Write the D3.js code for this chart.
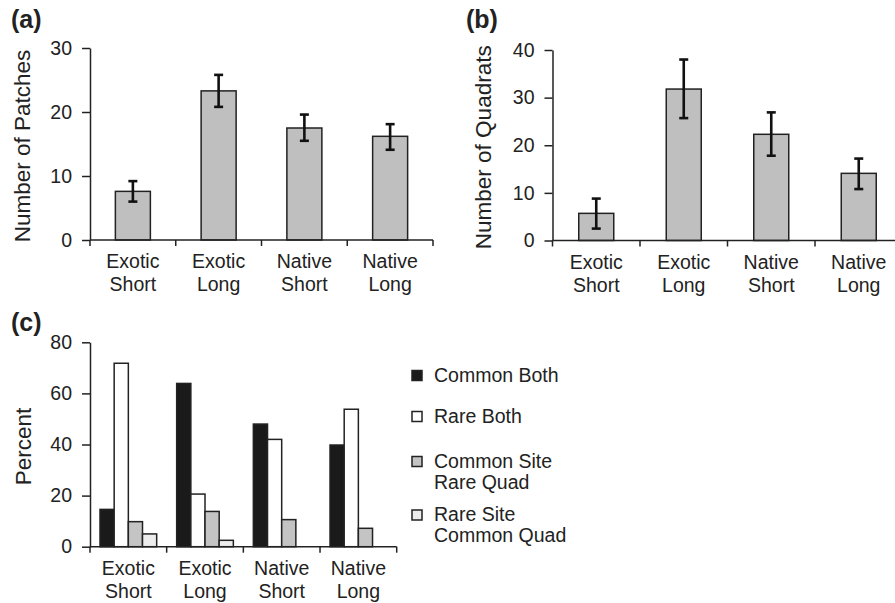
<!DOCTYPE html>
<html>
<head>
<meta charset="utf-8">
<script src="https://cdn.jsdelivr.net/npm/d3@7"></script>
<style>
    body { margin: 0; background: #fff; }
    svg { display: block; font-family: "Liberation Sans", Arial, Helvetica, sans-serif; }
</style>
</head>
<body>
<div id="chart"></div>
<script>
// Data
const categories = ['Exotic Short', 'Exotic Long', 'Native Short', 'Native Long'];

const patchMean = [7.6, 23.3, 17.5, 16.2];
const patchLow = [6.0, 20.8, 15.5, 14.1];
const patchHigh = [9.2, 25.8, 19.6, 18.1];
const patchTicks = [0, 10, 20, 30];

const quadratMean = [5.7, 31.8, 22.3, 14.1];
const quadratLow = [2.5, 25.7, 17.8, 10.8];
const quadratHigh = [8.8, 38.0, 26.9, 17.2];
const quadratTicks = [0, 10, 20, 30, 40];

const seriesNames = ['Common Both', 'Rare Both', 'Common Site Rare Quad', 'Rare Site Common Quad'];
const commonBoth = [14.6, 63.9, 48.0, 39.8];
const rareBoth = [71.8, 20.6, 42.0, 53.8];
const commonSiteRareQuad = [9.8, 13.8, 10.6, 7.2];
const rareSiteCommonQuad = [5.0, 2.5, 0, 0];
const percentTicks = [0, 20, 40, 60, 80];

const seriesColors = ['#1a1a1a', '#ffffff', '#c4c4c4', '#ececec'];
const ink = '#222';

const svg = d3.select('#chart').append('svg')
    .attr('width', 895)
    .attr('height', 603);

// Shared axis pieces
function drawAxes(g, x, y, ticks, title, titleX) {
    const [x0, x1] = x.range();
    const [yBottom] = y.range();

    // y axis
    const yAxis = d3.axisLeft(y).tickValues(ticks).tickSize(8).tickSizeOuter(0).tickPadding(10);
    const gy = g.append('g').attr('transform', `translate(${x0},0)`).call(yAxis);
    gy.select('.domain').attr('stroke', ink).attr('stroke-width', 1.5);
    gy.selectAll('.tick line').attr('stroke', ink).attr('stroke-width', 1.5);
    gy.selectAll('.tick text')
        .attr('fill', ink)
        .style('font-size', '19.5px');

    // x axis: baseline + ticks at band boundaries
    g.append('line')
        .attr('x1', x0).attr('x2', x1)
        .attr('y1', yBottom).attr('y2', yBottom)
        .attr('stroke', ink).attr('stroke-width', 1.5);
    const bounds = categories.map(c => x(c)).concat([x1]);
    g.selectAll('.xtick').data(bounds).enter().append('line')
        .attr('class', 'xtick')
        .attr('x1', d => d).attr('x2', d => d)
        .attr('y1', yBottom).attr('y2', yBottom + 6)
        .attr('stroke', ink).attr('stroke-width', 1.5);

    // two-line category labels
    const lab = g.selectAll('.xlab').data(categories).enter().append('text')
        .attr('class', 'xlab')
        .attr('text-anchor', 'middle')
        .attr('fill', ink)
        .style('font-size', '19.5px');
    lab.append('tspan')
        .attr('x', d => x(d) + x.bandwidth() / 2)
        .attr('y', yBottom + 28)
        .text(d => d.split(' ')[0]);
    lab.append('tspan')
        .attr('x', d => x(d) + x.bandwidth() / 2)
        .attr('y', yBottom + 51)
        .text(d => d.split(' ')[1]);

    // y title
    const [yb, yt] = y.range();
    g.append('text')
        .attr('transform', `translate(${titleX},${(yb + yt) / 2 + 2}) rotate(-90)`)
        .attr('text-anchor', 'middle')
        .attr('fill', ink)
        .style('font-size', '22.5px')
        .text(title);
}

function panelLabel(txt, x, y) {
    svg.append('text')
        .attr('x', x).attr('y', y)
        .attr('fill', ink)
        .style('font-size', '25px')
        .style('font-weight', 'bold')
        .text(txt);
}

function drawErrorBarPanel(mean, low, high, ticks, yMax, title, box) {
    const g = svg.append('g');
    const x = d3.scaleBand().domain(categories).range([box.left, box.right]).padding(0);
    const y = d3.scaleLinear().domain([0, yMax]).range([box.bottom, box.top]);
    const barW = 35;

    const rows = categories.map((c, i) => ({ c, v: mean[i], lo: low[i], hi: high[i] }));

    g.selectAll('.bar').data(rows).enter().append('rect')
        .attr('class', 'bar')
        .attr('x', d => x(d.c) + x.bandwidth() / 2 - barW / 2)
        .attr('width', barW)
        .attr('y', d => y(d.v))
        .attr('height', d => y(0) - y(d.v))
        .attr('fill', '#bfbfbf')
        .attr('stroke', ink)
        .attr('stroke-width', 1.5);

    // Error bars
    const eb = g.selectAll('.err').data(rows).enter().append('g').attr('class', 'err')
        .attr('stroke', '#111').attr('stroke-width', 2.6);
    eb.append('line')
        .attr('x1', d => x(d.c) + x.bandwidth() / 2)
        .attr('x2', d => x(d.c) + x.bandwidth() / 2)
        .attr('y1', d => y(d.lo)).attr('y2', d => y(d.hi));
    [d => d.lo, d => d.hi].forEach(acc => {
        eb.append('line')
            .attr('x1', d => x(d.c) + x.bandwidth() / 2 - 4.5)
            .attr('x2', d => x(d.c) + x.bandwidth() / 2 + 4.5)
            .attr('y1', d => y(acc(d))).attr('y2', d => y(acc(d)));
    });

    drawAxes(g, x, y, ticks, title, box.titleX);
}

// (a)
drawErrorBarPanel(patchMean, patchLow, patchHigh, patchTicks, 30, 'Number of Patches',
    { left: 90, right: 433, top: 48, bottom: 240, titleX: 30 });
panelLabel('(a)', 11, 28);

// (b)
drawErrorBarPanel(quadratMean, quadratLow, quadratHigh, quadratTicks, 40, 'Number of Quadrats',
    { left: 552.5, right: 902.5, top: 50, bottom: 240.5, titleX: 491 });
panelLabel('(b)', 466, 28);

// (c) grouped bars
(function () {
    const g = svg.append('g');
    const box = { left: 90, right: 396.7, top: 342.3, bottom: 546.7 };
    const x = d3.scaleBand().domain(categories).range([box.left, box.right]).padding(0);
    const inner = d3.scaleBand().domain(seriesNames).range([10, x.bandwidth() - 10]).padding(0);
    const y = d3.scaleLinear().domain([0, 80]).range([box.bottom, box.top]);

    const series = [commonBoth, rareBoth, commonSiteRareQuad, rareSiteCommonQuad];
    const rows = [];
    categories.forEach((c, i) => {
        seriesNames.forEach((s, j) => {
            if (series[j][i] > 0) rows.push({ c, s, j, v: series[j][i] });
        });
    });

    g.selectAll('.gbar').data(rows).enter().append('rect')
        .attr('class', 'gbar')
        .attr('x', d => x(d.c) + inner(d.s))
        .attr('width', inner.bandwidth())
        .attr('y', d => y(d.v))
        .attr('height', d => y(0) - y(d.v))
        .attr('fill', d => seriesColors[d.j])
        .attr('stroke', ink)
        .attr('stroke-width', 1.5);

    drawAxes(g, x, y, percentTicks, 'Percent', 31);

    // Legend
    const legendTop = [370.5, 411.5, 456.5, 510];
    const lg = svg.append('g');
    seriesNames.forEach((name, j) => {
        lg.append('rect')
            .attr('x', 412).attr('y', legendTop[j])
            .attr('width', 10).attr('height', 10)
            .attr('fill', seriesColors[j])
            .attr('stroke', ink).attr('stroke-width', 1.5);
        const words = name.split(' ');
        const lines = words.length > 2 ? [words.slice(0, 2).join(' '), words.slice(2).join(' ')] : [name];
        lines.forEach((ln, k) => {
            lg.append('text')
                .attr('x', 434)
                .attr('y', legendTop[j] + 11 + k * 21)
                .attr('fill', ink)
                .style('font-size', '19.5px')
                .text(ln);
        });
    });
})();
panelLabel('(c)', 11, 331);
</script>
</body>
</html>
